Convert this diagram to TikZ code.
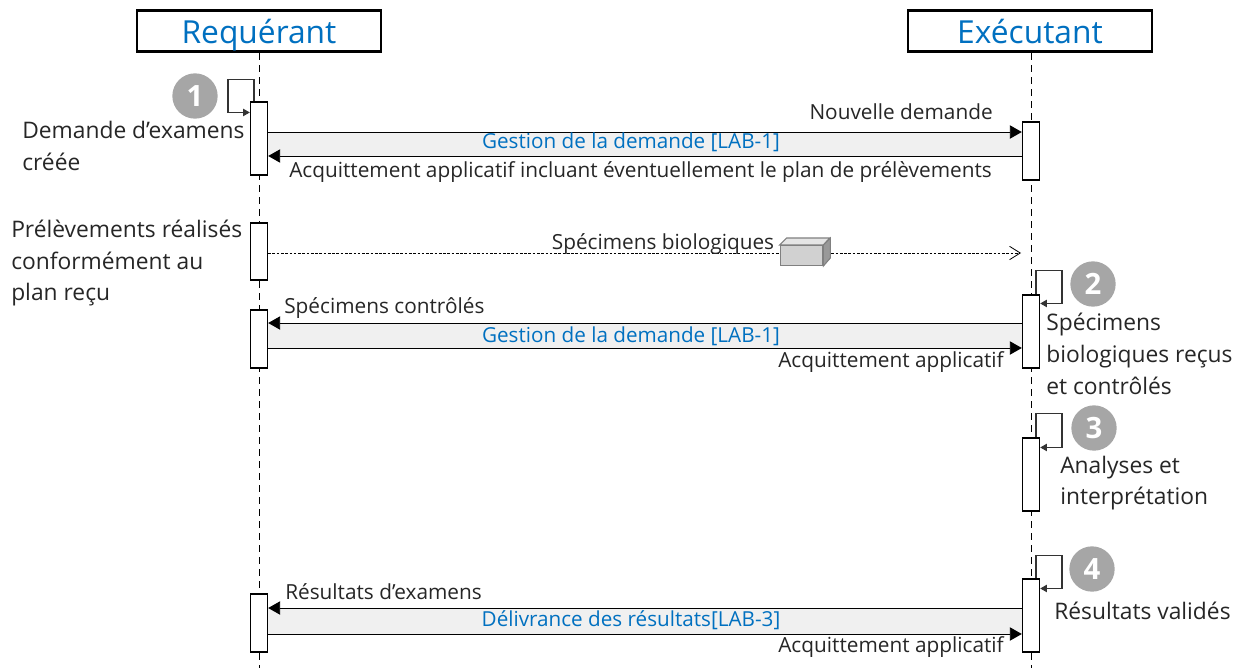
\documentclass[tikz,border=0pt]{standalone}
\usepackage{fontspec}
\setmainfont{Open Sans}
\usetikzlibrary{calc,arrows.meta}

\definecolor{txtgray}{HTML}{262626}
\definecolor{msgblue}{HTML}{0070C0}
\definecolor{bandgray}{HTML}{F0F0F0}
\definecolor{stepgray}{HTML}{A6A6A6}

\tikzset{
  actor/.style={draw=black, line width=2pt, fill=white, minimum width=183pt, minimum height=31pt, text=msgblue, text height=20pt, text depth=2pt, font=\fontsize{23.8}{26}\selectfont},
  lifeline/.style={line width=0.75pt, dash pattern=on 5pt off 4pt},
  lifebar/.style={draw=black, line width=0.8pt, fill=white, minimum width=13pt, minimum height=#1*0.75pt, inner sep=0pt},
  msg/.style={line width=0.7pt, -{Triangle[length=9pt,width=10pt]}},
  selfmsg/.style={line width=0.8pt, draw=black!80, -{Triangle[length=5pt,width=5.5pt]}},
  label/.style={text=txtgray, inner sep=0pt, align=left, font=\fontsize{15.6}{18}\selectfont},
  note/.style={text=txtgray, inner sep=0pt, align=left, anchor=west, font=\fontsize{17.1}{23.8}\selectfont},
  blabel/.style={text=msgblue, inner sep=0pt, font=\fontsize{15.5}{18}\selectfont},
  stepnum/.style={circle, fill=stepgray, text=white, minimum size=34pt, inner sep=0pt, font=\fontsize{22}{24}\selectfont\bfseries},
}

\begin{document}
\begin{tikzpicture}[x=0.75pt, y=-0.75pt]
\useasboundingbox (0,0) rectangle (1245,668);

\node[actor] (req) at (259,31) {Requérant};
\node[actor] (exe) at (1030,31) {Exécutant};

\coordinate (reqend) at (259,668);
\coordinate (exeend) at (1031,668);
\draw[lifeline] (req.south) -- (reqend);
\draw[lifeline] (exe.south -| exeend) -- (exeend);

\node[lifebar=73] (req1) at (259,138.5) {};
\node[lifebar=57] (req2) at (259,251.5) {};
\node[lifebar=58] (req3) at (259,339) {};
\node[lifebar=58] (req4) at (259,623) {};

\node[lifebar=58] (exe1) at (1031,151) {};
\node[lifebar=73] (exe2) at (1031,331.5) {};
\node[lifebar=73] (exe3) at (1031,474.5) {};
\node[lifebar=73] (exe4) at (1031,615.5) {};

% bands between the two arrows
\fill[bandgray] ($(req1.east)+(0,-6.5)$) rectangle ($(exe1.west)+(0,5)$);
\fill[bandgray] ($(req3.east)+(0,-16)$) rectangle ($(exe2.west)+(0,16.5)$);
\fill[bandgray] ($(req4.east)+(0,-15)$) rectangle ($(exe4.west)+(0,18.5)$);

\draw[msg] ($(req1.east)+(0,-6.5)$) -- ($(exe1.west)+(0,-19)$);
\draw[msg] ($(exe1.west)+(0,5)$) -- ($(req1.east)+(0,17.5)$);

\draw[msg] ($(exe2.west)+(0,-8.5)$) -- ($(req3.east)+(0,-16)$);
\draw[msg] ($(req3.east)+(0,9)$) -- ($(exe2.west)+(0,16.5)$);

\draw[msg] ($(exe4.west)+(0,-7.5)$) -- ($(req4.east)+(0,-15)$);
\draw[msg] ($(req4.east)+(0,11)$) -- ($(exe4.west)+(0,18.5)$);

% parcel on the dotted arrow
\node[draw=black!50, fill=black!18, line width=0.8pt, minimum width=32pt, minimum height=15pt, inner sep=0pt] (cube) at (801.5,255.5) {};
\draw[draw=black!50, fill=black!10, line width=0.8pt] (cube.north west) -- ++(7,-7) -- ++(43,0) -- ($(cube.north east)$) -- cycle;
\draw[draw=black!50, fill=black!40, line width=0.8pt] (cube.north east) -- ++(7,-7) -- ++(0,20) -- (cube.south east) -- cycle;

\coordinate (parcelend) at (1021,253);
\draw[line width=0.6pt, dash pattern=on 2pt off 1.2pt] ($(req2.east)+(0,1.5)$) -- (cube.west |- parcelend);
\draw[line width=0.6pt, dash pattern=on 2pt off 1.2pt, -{Straight Barb[length=8pt,width=10pt]}] ($(cube.east |- parcelend)+(8,0)$) -- (parcelend);

% self messages
\draw[selfmsg] ($(req1.north)+(-5,0)$) -- ++(0,-22) -- ++(-26,0) -- ++(0,33) -- ($(req1.north west)+(0,11)$);
\draw[selfmsg] ($(exe2.north)+(5,0)$) -- ++(0,-24) -- ++(26,0) -- ++(0,33) -- ($(exe2.north east)+(0,9)$);
\draw[selfmsg] ($(exe3.north)+(5,0)$) -- ++(0,-24) -- ++(26,0) -- ++(0,34) -- ($(exe3.north east)+(0,10)$);
\draw[selfmsg] ($(exe4.north)+(5,0)$) -- ++(0,-23) -- ++(26,0) -- ++(0,33) -- ($(exe4.north east)+(0,10)$);

\node[stepnum] (step1) at (195,96) {1};
\node[stepnum] (step2) at (1093,284) {2};
\node[stepnum] (step3) at (1094,428) {3};
\node[stepnum] (step4) at (1092,569) {4};

\node[note] (txt1) at (22,146) {Demande d’examens\\créée};
\node[note] (txt2) at (11,263) {Prélèvements réalisés\\conformément au\\plan reçu};
\node[note] (txt3) at (1046,354) {Spécimens\\biologiques reçus\\et contrôlés};
\node[note] (txt4) at (1060,483) {Analyses et\\interprétation};
\node[note] (txt5) at (1054,611) {Résultats validés};

\node[label, anchor=east] (nouv) at (993,112) {Nouvelle demande};
\node[blabel] (gest1) at (631,142) {Gestion de la demande [LAB-1]};
\node[label, anchor=west] (acq1) at (289,172) {Acquittement applicatif incluant éventuellement le plan de prélèvements};

\node[label] (spec) at (663,244) {Spécimens biologiques};

\node[label, anchor=west] (ctrl) at (284,308) {Spécimens contrôlés};
\node[blabel] (gest2) at (631,336) {Gestion de la demande [LAB-1]};
\node[label, anchor=east] (acq2) at (1004,362) {Acquittement applicatif};

\node[label, anchor=west] (resu) at (285,592) {Résultats d’examens};
\node[blabel] (deli) at (631,620) {Délivrance des résultats[LAB-3]};
\node[label, anchor=east] (acq3) at (1004,647) {Acquittement applicatif};

\end{tikzpicture}
\end{document}
